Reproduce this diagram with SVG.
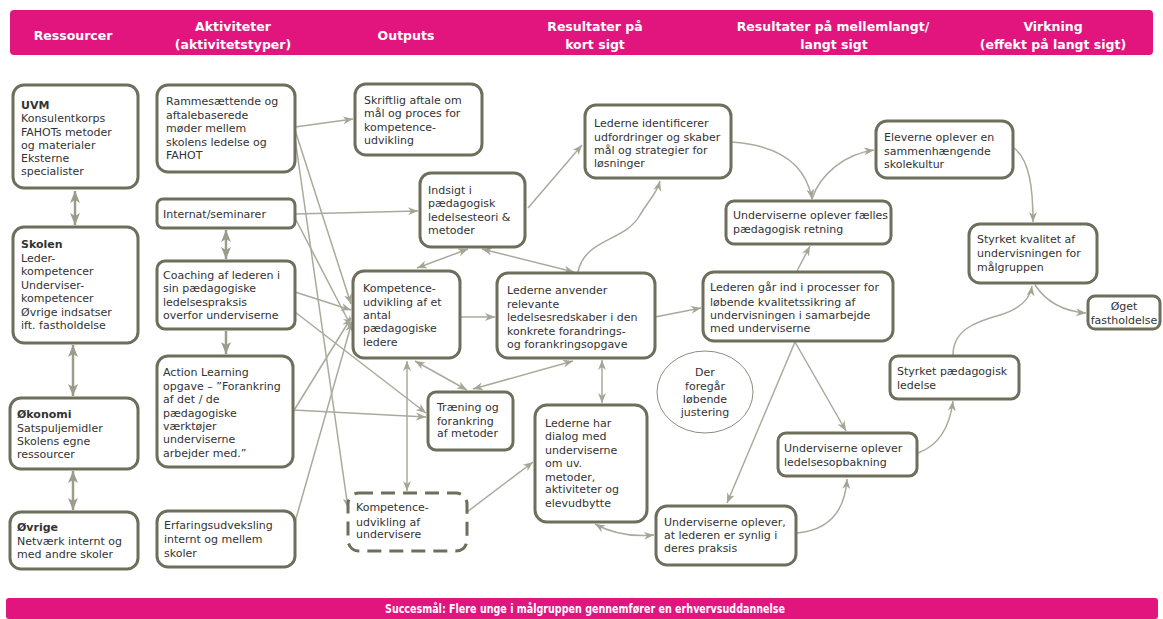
<svg xmlns="http://www.w3.org/2000/svg" width="1163" height="619" viewBox="0 0 1163 619">
<defs>
<style>
.bar{fill:#e2157e}
.ht{font-family:"DejaVu Sans",Verdana,sans-serif;font-weight:bold;font-size:12.5px;fill:#fff;text-anchor:middle}
.bt{font-family:"DejaVu Sans",Verdana,sans-serif;font-weight:bold;font-size:12px;fill:#fff;text-anchor:middle}
.box{fill:#fff;stroke:#6e6e5c;stroke-width:3}
.dash{fill:#fff;stroke:#6e6e5c;stroke-width:3;stroke-dasharray:14 8}
.ell{fill:#fff;stroke:#8c8c80;stroke-width:1}
.t{font-family:"DejaVu Sans",Verdana,sans-serif;font-size:11px;fill:#333}
.tb{font-weight:bold}
.tc{text-anchor:middle}
.c{fill:none;stroke:#aaaa9c;stroke-width:1.5}
.ck{fill:none;stroke:#9c9c8c;stroke-width:2.5}
</style>
<marker id="a" viewBox="0 0 10 8" refX="10" refY="4" markerWidth="10" markerHeight="8" markerUnits="userSpaceOnUse" orient="auto-start-reverse"><path d="M0,0 L10,4 L0,8 L3,4z" fill="#a5a596"/></marker>
<marker id="b" viewBox="0 0 12 10" refX="12" refY="5" markerWidth="12" markerHeight="10" markerUnits="userSpaceOnUse" orient="auto-start-reverse"><path d="M0,0 L12,5 L0,10 L3,5z" fill="#9c9c8c"/></marker>
</defs>
<rect width="1163" height="619" fill="#fff"/>

<g id="header">
<rect class="bar" x="10" y="10" width="1143" height="45" rx="4"/>
<text class="ht" x="73" y="40">Ressourcer</text>
<text class="ht" x="233" y="31">Aktiviteter</text>
<text class="ht" x="233" y="49">(aktivitetstyper)</text>
<text class="ht" x="406" y="40">Outputs</text>
<text class="ht" x="595" y="31">Resultater på</text>
<text class="ht" x="595" y="49">kort sigt</text>
<text class="ht" x="833" y="31">Resultater på mellemlangt/</text>
<text class="ht" x="834" y="49">langt sigt</text>
<text class="ht" x="1053" y="31">Virkning</text>
<text class="ht" x="1053" y="49">(effekt på langt sigt)</text>
</g>

<g id="connectors">
<path class="ck" d="M75,191 V225" marker-start="url(#b)" marker-end="url(#b)"/>
<path class="ck" d="M73,345 V396" marker-start="url(#b)" marker-end="url(#b)"/>
<path class="ck" d="M73,471 V510" marker-start="url(#b)" marker-end="url(#b)"/>
<path class="ck" d="M226,230 V259" marker-start="url(#b)" marker-end="url(#b)"/>
<path class="ck" d="M226,331 V354" marker-end="url(#b)"/>

<path class="c" d="M295,127 L353,119" marker-end="url(#a)"/>
<path class="c" d="M295,214 L418,211" marker-end="url(#a)"/>
<path class="c" d="M295,130 L351,304" marker-end="url(#a)"/>
<path class="c" d="M295,138 L348,508" marker-end="url(#a)"/>
<path class="c" d="M295,218 L351,326" marker-end="url(#a)"/>
<path class="c" d="M295,292 L351,310" marker-end="url(#a)"/>
<path class="c" d="M295,312 L426,413" marker-end="url(#a)"/>
<path class="c" d="M293,412 L351,318" marker-end="url(#a)"/>
<path class="c" d="M293,410 L426,417" marker-end="url(#a)"/>
<path class="c" d="M295,522 L352,322" marker-end="url(#a)"/>

<path class="c" d="M417,268 L468,249" marker-start="url(#a)" marker-end="url(#a)"/>
<path class="c" d="M482,249 L574,272" marker-start="url(#a)" marker-end="url(#a)"/>
<path class="c" d="M528,208 L582,145" marker-end="url(#a)"/>
<path class="c" d="M578,272 C585,238 625,242 640,215 C650,198 656,195 660,181" marker-end="url(#a)"/>
<path class="c" d="M460,317 L495,317" marker-end="url(#a)"/>
<path class="c" d="M655,317 L701,308" marker-end="url(#a)"/>
<path class="c" d="M573,361 L473,389" marker-start="url(#a)" marker-end="url(#a)"/>
<path class="c" d="M415,361 L467,390" marker-start="url(#a)" marker-end="url(#a)"/>
<path class="c" d="M407,361 L407,491" marker-start="url(#a)" marker-end="url(#a)"/>
<path class="c" d="M467,512 L533,462" marker-end="url(#a)"/>
<path class="c" d="M602,360 L602,403" marker-start="url(#a)" marker-end="url(#a)"/>
<path class="c" d="M595,524 Q620,538 654,535" marker-start="url(#a)" marker-end="url(#a)"/>

<path class="c" d="M731,142 C780,145 806,165 812,199" marker-end="url(#a)"/>
<path class="c" d="M812,199 C820,174 845,154 874,150" marker-end="url(#a)"/>
<path class="c" d="M797,271 L810,246" marker-end="url(#a)"/>
<path class="c" d="M1014,148 C1030,160 1033,190 1033,222" marker-end="url(#a)"/>
<path class="c" d="M1035,285 C1045,300 1060,311 1086,313" marker-end="url(#a)"/>
<path class="c" d="M953,355 C953,330 975,322 1000,315 C1020,309 1030,300 1032,286" marker-end="url(#a)"/>
<path class="c" d="M795,342 L727,503" marker-end="url(#a)"/>
<path class="c" d="M795,342 L846,431" marker-end="url(#a)"/>
<path class="c" d="M797,533 C830,530 845,510 847,479" marker-end="url(#a)"/>
<path class="c" d="M918,453 C940,445 950,425 953,401" marker-end="url(#a)"/>
</g>

<g id="n-uvm"><rect class="box" x="13" y="85" width="125" height="103" rx="11"/>
<text class="t"><tspan class="tb" x="21" y="109">UVM</tspan><tspan x="21" y="122">Konsulentkorps</tspan><tspan x="21" y="135.5">FAHOTs metoder</tspan><tspan x="21" y="149">og materialer</tspan><tspan x="21" y="162">Eksterne</tspan><tspan x="21" y="175">specialister</tspan></text></g>

<g id="n-skolen"><rect class="box" x="13" y="227" width="125" height="116" rx="11"/>
<text class="t"><tspan class="tb" x="21" y="248">Skolen</tspan><tspan x="21" y="262">Leder-</tspan><tspan x="21" y="275">kompetencer</tspan><tspan x="21" y="289">Underviser-</tspan><tspan x="21" y="302">kompetencer</tspan><tspan x="21" y="316">Øvrige indsatser</tspan><tspan x="21" y="329">ift. fastholdelse</tspan></text></g>

<g id="n-okonomi"><rect class="box" x="10" y="398" width="128" height="71" rx="11"/>
<text class="t"><tspan class="tb" x="17" y="418">Økonomi</tspan><tspan x="17" y="432">Satspuljemidler</tspan><tspan x="17" y="445">Skolens egne</tspan><tspan x="17" y="458">ressourcer</tspan></text></g>

<g id="n-ovrige"><rect class="box" x="10" y="512" width="128" height="57" rx="11"/>
<text class="t"><tspan class="tb" x="17" y="531">Øvrige</tspan><tspan x="17" y="545">Netværk internt og</tspan><tspan x="17" y="558">med andre skoler</tspan></text></g>

<g id="n-ramme"><rect class="box" x="157" y="85" width="138" height="87" rx="11"/>
<text class="t"><tspan x="166" y="105">Rammesættende og</tspan><tspan x="166" y="119">aftalebaserede</tspan><tspan x="166" y="132">møder mellem</tspan><tspan x="166" y="146">skolens ledelse og</tspan><tspan x="166" y="159">FAHOT</tspan></text></g>

<g id="n-internat"><rect class="box" x="157" y="199" width="138" height="29" rx="6"/>
<text class="t"><tspan x="163" y="218">Internat/seminarer</tspan></text></g>

<g id="n-coaching"><rect class="box" x="157" y="261" width="138" height="68" rx="8"/>
<text class="t"><tspan x="163" y="279">Coaching af lederen i</tspan><tspan x="163" y="292">sin pædagogiske</tspan><tspan x="163" y="306">ledelsespraksis</tspan><tspan x="163" y="319">overfor underviserne</tspan></text></g>

<g id="n-action"><rect class="box" x="157" y="356" width="136" height="111" rx="11"/>
<text class="t"><tspan x="163" y="376">Action Learning</tspan><tspan x="163" y="390">opgave – ”Forankring</tspan><tspan x="163" y="403">af det / de</tspan><tspan x="163" y="417">pædagogiske</tspan><tspan x="163" y="430">værktøjer</tspan><tspan x="163" y="443">underviserne</tspan><tspan x="163" y="457">arbejder med.”</tspan></text></g>

<g id="n-erfaring"><rect class="box" x="157" y="511" width="138" height="56" rx="11"/>
<text class="t"><tspan x="164" y="529">Erfaringsudveksling</tspan><tspan x="164" y="543">internt og mellem</tspan><tspan x="164" y="557">skoler</tspan></text></g>

<g id="n-skriftlig"><rect class="box" x="355" y="84" width="127" height="71" rx="11"/>
<text class="t"><tspan x="364" y="104">Skriftlig aftale om</tspan><tspan x="364" y="117">mål og proces for</tspan><tspan x="364" y="131">kompetence-</tspan><tspan x="364" y="144">udvikling</tspan></text></g>

<g id="n-indsigt"><rect class="box" x="420" y="173" width="105" height="74" rx="11"/>
<text class="t"><tspan x="428" y="194">Indsigt i</tspan><tspan x="428" y="207">pædagogisk</tspan><tspan x="428" y="221">ledelsesteori &amp;</tspan><tspan x="428" y="234">metoder</tspan></text></g>

<g id="n-kompantal"><rect class="box" x="353" y="271" width="107" height="87" rx="11"/>
<text class="t"><tspan x="363" y="292">Kompetence-</tspan><tspan x="363" y="306">udvikling af et</tspan><tspan x="363" y="319">antal</tspan><tspan x="363" y="332">pædagogiske</tspan><tspan x="363" y="346">ledere</tspan></text></g>

<g id="n-anvender"><rect class="box" x="497" y="273" width="158" height="85" rx="11"/>
<text class="t"><tspan x="507" y="294">Lederne anvender</tspan><tspan x="507" y="308">relevante</tspan><tspan x="507" y="321">ledelsesredskaber i den</tspan><tspan x="507" y="335">konkrete forandrings-</tspan><tspan x="507" y="348">og forankringsopgave</tspan></text></g>

<g id="n-identificerer"><rect class="box" x="585" y="105" width="146" height="73" rx="11"/>
<text class="t"><tspan x="594" y="127">Lederne identificerer</tspan><tspan x="594" y="141">udfordringer og skaber</tspan><tspan x="594" y="154">mål og strategier for</tspan><tspan x="594" y="167">løsninger</tspan></text></g>

<g id="n-traening"><rect class="box" x="428" y="392" width="85" height="58" rx="8"/>
<text class="t"><tspan x="437" y="411">Træning og</tspan><tspan x="437" y="425">forankring</tspan><tspan x="437" y="437">af metoder</tspan></text></g>

<g id="n-kompunder"><rect class="dash" x="348" y="493" width="119" height="58" rx="11"/>
<text class="t"><tspan x="356" y="511">Kompetence-</tspan><tspan x="356" y="526">udvikling af</tspan><tspan x="356" y="538">undervisere</tspan></text></g>

<g id="n-dialog"><rect class="box" x="535" y="405" width="112" height="117" rx="12"/>
<text class="t"><tspan x="545" y="427">Lederne har</tspan><tspan x="545" y="440">dialog med</tspan><tspan x="545" y="454">underviserne</tspan><tspan x="545" y="467">om uv.</tspan><tspan x="545" y="481">metoder,</tspan><tspan x="545" y="493">aktiviteter og</tspan><tspan x="545" y="507">elevudbytte</tspan></text></g>

<g id="n-justering"><ellipse class="ell" cx="705" cy="392" rx="48" ry="41"/>
<text class="t tc"><tspan x="705" y="376">Der</tspan><tspan x="705" y="390">foregår</tspan><tspan x="705" y="403">løbende</tspan><tspan x="705" y="416">justering</tspan></text></g>

<g id="n-eleverne"><rect class="box" x="876" y="121" width="137" height="57" rx="11"/>
<text class="t"><tspan x="884" y="141">Eleverne oplever en</tspan><tspan x="884" y="155">sammenhængende</tspan><tspan x="884" y="168">skolekultur</tspan></text></g>

<g id="n-faelles"><rect class="box" x="726" y="201" width="165" height="43" rx="8"/>
<text class="t"><tspan x="733" y="219">Underviserne oplever fælles</tspan><tspan x="733" y="233">pædagogisk retning</tspan></text></g>

<g id="n-kvalitet"><rect class="box" x="969" y="224" width="128" height="59" rx="11"/>
<text class="t"><tspan x="977" y="243">Styrket kvalitet af</tspan><tspan x="977" y="257">undervisningen for</tspan><tspan x="977" y="271">målgruppen</tspan></text></g>

<g id="n-lederen"><rect class="box" x="703" y="272" width="190" height="69" rx="11"/>
<text class="t"><tspan x="710" y="291">Lederen går ind i processer for</tspan><tspan x="710" y="306">løbende kvalitetssikring af</tspan><tspan x="710" y="319">undervisningen i samarbejde</tspan><tspan x="710" y="332">med underviserne</tspan></text></g>

<g id="n-oget"><rect class="box" x="1088" y="296" width="72" height="33" rx="7"/>
<text class="t tc"><tspan x="1124" y="310">Øget</tspan><tspan x="1124" y="324">fastholdelse</tspan></text></g>

<g id="n-styrketped"><rect class="box" x="890" y="356" width="129" height="43" rx="8"/>
<text class="t"><tspan x="897" y="375">Styrket pædagogisk</tspan><tspan x="897" y="389">ledelse</tspan></text></g>

<g id="n-opbakning"><rect class="box" x="778" y="433" width="139" height="43" rx="8"/>
<text class="t"><tspan x="784" y="452">Underviserne oplever</tspan><tspan x="784" y="466">ledelsesopbakning</tspan></text></g>

<g id="n-synlig"><rect class="box" x="656" y="506" width="140" height="59" rx="11"/>
<text class="t"><tspan x="664" y="526">Underviserne oplever,</tspan><tspan x="664" y="539">at lederen er synlig i</tspan><tspan x="664" y="552">deres praksis</tspan></text></g>

<g id="footer">
<rect class="bar" x="6" y="598" width="1152" height="21" rx="3"/>
<text class="bt" x="585" y="613" textLength="400" lengthAdjust="spacingAndGlyphs">Succesmål: Flere unge i målgruppen gennemfører en erhvervsuddannelse</text>
</g>
</svg>
